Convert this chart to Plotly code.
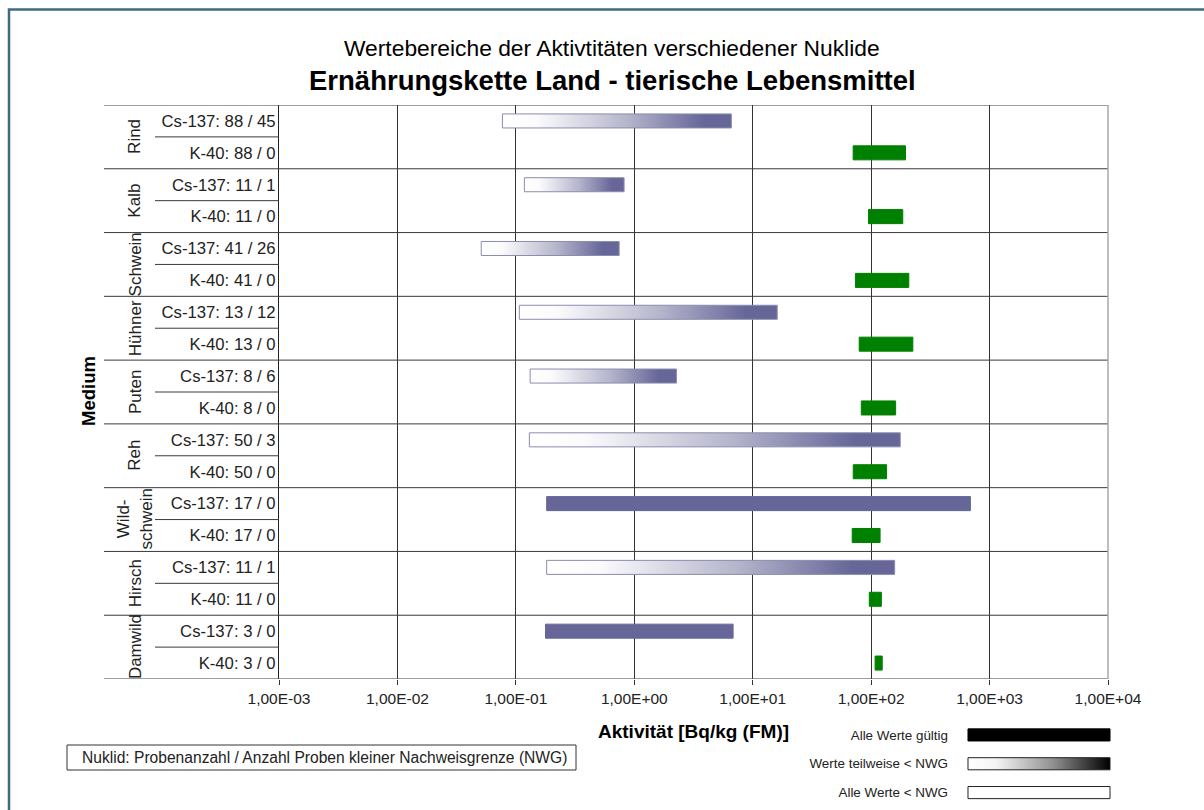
import plotly.graph_objects as go

# ---------------- data ----------------
groups = ["Rind", "Kalb", "Schwein", "Hühner", "Puten", "Reh", "Wild-<br>schwein", "Hirsch", "Damwild"]
cs_n = [88, 11, 41, 13, 8, 50, 17, 11, 3]
cs_nwg = [45, 1, 26, 12, 6, 3, 0, 1, 0]
k_n = [88, 11, 41, 13, 8, 50, 17, 11, 3]
k_nwg = [0, 0, 0, 0, 0, 0, 0, 0, 0]
cs_min = [0.077, 0.118, 0.051, 0.107, 0.132, 0.130, 0.182, 0.182, 0.178]
cs_max = [6.6, 0.82, 0.745, 16.1, 2.27, 176, 689, 158, 6.83]
k_min = [70.5, 94.9, 73.7, 79.3, 82.6, 70.6, 69.2, 96.5, 108]
k_max = [195, 185, 208, 225, 161, 135, 119, 122, 124]
tick_exponents = [-3, -2, -1, 0, 1, 2, 3, 4]
legend_labels = ["Alle Werte gültig", "Werte teilweise < NWG", "Alle Werte < NWG"]

# ---------------- styles ----------------
FONT = "Liberation Sans, Arial, sans-serif"
W, H = 1204, 810
CS_COLOR = "#666699"
K_COLOR = "#008000"
GRAD_BORDER = "#8c8cad"
LINE = "#3a3a3a"
HALF = 0.22  # half bar height in row units


def px_x(p):
    return p / W


def px_y(p):
    return 1 - p / H


fig = go.Figure()

rows_labels = []
for i, g in enumerate(groups):
    rows_labels.append(f"Cs-137: {cs_n[i]} / {cs_nwg[i]}")
    rows_labels.append(f"K-40: {k_n[i]} / {k_nwg[i]}")


def add_bar(lo, hi, yc, n, nwg, solid_color):
    xs = [lo, hi, hi, lo, lo]
    ys = [yc - HALF, yc - HALF, yc + HALF, yc + HALF, yc - HALF]
    if nwg == 0:
        fig.add_trace(go.Scatter(x=xs, y=ys, mode="lines", fill="toself",
                                 fillcolor=solid_color, line=dict(color=solid_color, width=1),
                                 hoverinfo="skip", showlegend=False))
    elif nwg >= n:
        fig.add_trace(go.Scatter(x=xs, y=ys, mode="lines", fill="toself",
                                 fillcolor="white", line=dict(color=GRAD_BORDER, width=1),
                                 hoverinfo="skip", showlegend=False))
    else:
        fig.add_trace(go.Scatter(x=xs, y=ys, mode="lines", fill="toself",
                                 fillgradient=dict(type="horizontal",
                                                   colorscale=[[0, "#ffffff"], [0.15, "#fbfbfd"],
                                                               [0.55, "#b4b4cb"], [0.88, solid_color],
                                                               [1, solid_color]]),
                                 line=dict(color=GRAD_BORDER, width=1),
                                 hoverinfo="skip", showlegend=False))


for i in range(len(groups)):
    add_bar(cs_min[i], cs_max[i], 2 * i, cs_n[i], cs_nwg[i], CS_COLOR)
    add_bar(k_min[i], k_max[i], 2 * i + 1, k_n[i], k_nwg[i], K_COLOR)

# ---------------- legend (own small axes) ----------------
leg_styles = [
    dict(fillcolor="black", line=dict(color="black", width=1)),
    dict(fillgradient=dict(type="horizontal", colorscale=[[0, "#ffffff"], [0.2, "#f4f4f4"], [0.6, "#909090"], [1, "#000000"]]),
         line=dict(color="#222", width=1)),
    dict(fillcolor="white", line=dict(color="#222", width=1)),
]
for j, st in enumerate(leg_styles):
    fig.add_trace(go.Scatter(x=[0, 1, 1, 0, 0],
                             y=[j - 0.21, j - 0.21, j + 0.21, j + 0.21, j - 0.21],
                             mode="lines", fill="toself", xaxis="x2", yaxis="y2",
                             hoverinfo="skip", showlegend=False, **st))

shapes = []
# outer frame
shapes.append(dict(type="rect", xref="paper", yref="paper", x0=px_x(9), x1=1.05, y0=-0.05, y1=px_y(9.5),
                   line=dict(color="#3d6b82", width=2.5), fillcolor="rgba(0,0,0,0)", layer="above"))
# group separator lines
for k in range(len(groups) + 1):
    shapes.append(dict(type="line", xref="paper", yref="y", x0=px_x(104), x1=px_x(1108),
                       y0=2 * k - 0.5, y1=2 * k - 0.5, line=dict(color=LINE, width=1)))
# sub-row separators in label column
for k in range(len(groups)):
    shapes.append(dict(type="line", xref="paper", yref="y", x0=px_x(155), x1=px_x(279),
                       y0=2 * k + 0.5, y1=2 * k + 0.5, line=dict(color=LINE, width=1)))
# right plot border (lighter)
shapes.append(dict(type="line", xref="paper", yref="y", x0=px_x(1108), x1=px_x(1108),
                   y0=-0.5, y1=2 * len(groups) - 0.5, line=dict(color="#a8a8a8", width=1.5)))
# note box
shapes.append(dict(type="rect", xref="paper", yref="paper", x0=px_x(67), x1=px_x(576),
                   y0=px_y(770), y1=px_y(745), line=dict(color="#333", width=1)))


def ann(text, x, y, size, xref="paper", yref="paper", angle=0, color="black"):
    return dict(text=text, x=x, y=y, xref=xref, yref=yref, showarrow=False, textangle=angle,
                xanchor="center", yanchor="middle", align="center",
                font=dict(family=FONT, size=size, color=color))


annotations = [
    ann("Wertebereiche der Aktivtitäten verschiedener Nuklide", px_x(612), px_y(48), 22.8),
    ann("<b>Ernährungskette Land - tierische Lebensmittel</b>", px_x(612), px_y(80), 27.5),
    ann("<b>Medium</b>", px_x(88), px_y(391), 18.5, angle=-90),
    ann("<b>Aktivität [Bq/kg (FM)]</b>", px_x(693), px_y(731), 19),
    ann("Nuklid: Probenanzahl / Anzahl Proben kleiner Nachweisgrenze (NWG)", px_x(324), px_y(757.5), 15.6,
        color="#222"),
]
for i, g in enumerate(groups):
    annotations.append(ann(g, px_x(135), 2 * i + 0.5, 17, yref="y", angle=-90, color="#222"))

fig.update_layout(
    width=W, height=H, margin=dict(l=0, r=0, t=0, b=0, pad=0), autosize=False,
    paper_bgcolor="white", plot_bgcolor="white",
    font=dict(family=FONT, color="#222"),
    showlegend=False,
    xaxis=dict(type="log", range=[-3, 4], domain=[px_x(279), px_x(1108)],
               tickvals=[10.0 ** e for e in tick_exponents],
               ticktext=[f"1,00E{'+' if e >= 0 else '-'}{abs(e):02d}" for e in tick_exponents],
               tickfont=dict(family=FONT, size=15.5, color="#222"),
               ticks="outside", ticklen=5, tickcolor="#333", automargin=False,
               showgrid=True, gridcolor="#333", gridwidth=1, zeroline=False, showline=False),
    yaxis=dict(range=[2 * len(groups) - 0.5, -0.5], domain=[px_y(679), px_y(105)],
               tickvals=list(range(2 * len(groups))), ticktext=rows_labels,
               tickfont=dict(family=FONT, size=16.7, color="#222"), ticks="",
               ticklabelstandoff=-1, automargin=False,
               showgrid=False, zeroline=False, showline=True, linecolor="#222", linewidth=1),
    xaxis2=dict(domain=[px_x(967), px_x(1111)], range=[-0.007, 1.007], anchor="y2", visible=False,
                automargin=False),
    yaxis2=dict(domain=[px_y(807), px_y(720.5)], range=[2.5, -0.5], anchor="x2",
                tickvals=[0, 1, 2], ticktext=legend_labels, ticks="", showgrid=False, zeroline=False,
                showline=False, tickfont=dict(family=FONT, size=13.4, color="#222"),
                ticklabelstandoff=18, automargin=False),
    shapes=shapes,
    annotations=annotations,
)

fig.write_html("out.html")
